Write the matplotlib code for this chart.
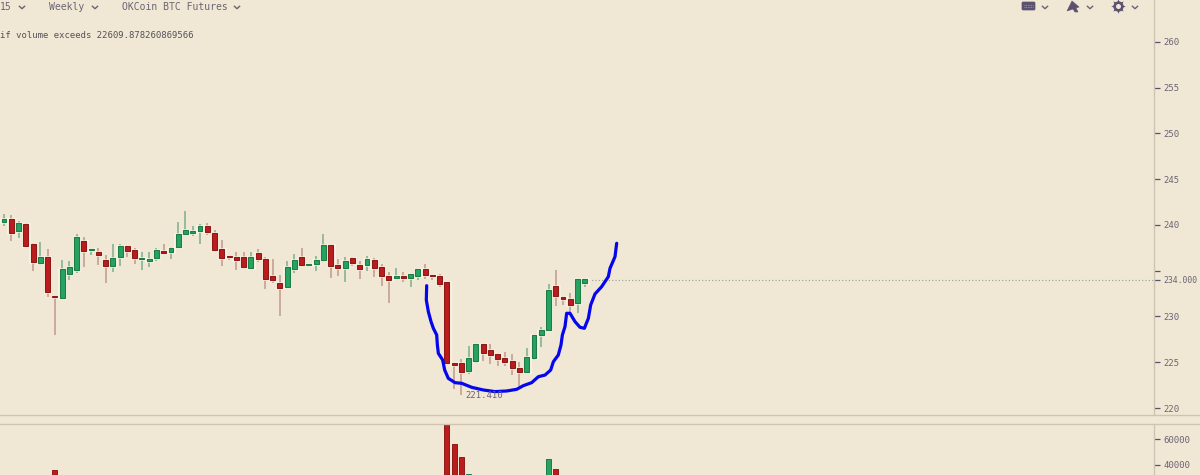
import matplotlib
matplotlib.use('Agg')
import matplotlib.pyplot as plt
from matplotlib.patches import FancyBboxPatch, Polygon
import numpy as np

opens = [240.29,240.62,239.34,240.14,237.88,235.88,236.54,232.2,232.02,234.68,
	235.12,238.21,237.23,237.05,236.17,235.55,236.5,237.67,237.23,236.25,
	236.06,236.43,237.16,237.05,237.56,238.98,239.16,239.34,239.85,239.09,
	237.34,236.65,236.47,236.47,235.26,236.98,236.25,234.43,233.62,233.26,
	235.19,236.54,235.67,235.74,236.14,237.78,235.67,235.26,236.36,235.67,
	235.63,236.17,235.37,234.43,234.21,234.43,234.21,234.39,235.23,234.5,
	234.43,233.73,224.92,224.88,224.08,225.17,226.96,226.3,225.87,225.46,
	225.1,224.37,223.97,225.5,227.94,228.49,233.3,232.13,231.95,231.51,233.7]
closes = [240.69,239.09,240.18,237.74,235.99,236.54,232.64,232.09,235.15,235.37,
	238.65,237.19,237.34,236.68,235.55,236.35,237.67,237.19,236.43,236.35,
	236.25,237.23,236.94,237.48,238.98,239.41,239.34,239.85,239.27,237.3,
	236.43,236.54,236.17,235.45,236.47,236.32,234.06,233.95,233.15,235.37,
	236.17,235.63,235.74,236.17,237.78,235.56,235.34,236.1,235.81,235.19,
	236.25,235.34,234.39,234.03,234.43,234.21,234.61,235.23,234.57,234.39,
	233.52,224.88,224.7,223.9,225.43,226.96,226.05,225.83,225.39,225.03,
	224.34,223.97,225.54,227.98,228.53,232.93,232.2,231.95,231.22,234.06,234.06]
highs = [241.2,241.05,240.43,240.18,237.99,238.14,237.34,232.2,236.17,236.03,
	239.01,238.65,237.34,237.52,236.72,237.88,237.88,237.67,237.52,237.01,
	237.01,237.52,237.88,237.63,240.33,241.49,239.89,240.07,240.25,239.45,
	238.36,236.65,237.01,237.08,237.08,237.34,236.47,236.28,234.54,236.1,
	236.83,237.52,235.74,236.65,239.02,237.78,236.28,236.47,236.47,236.03,
	236.65,236.36,235.7,234.83,235.34,234.83,234.61,235.23,235.7,234.5,
	234.61,233.73,224.92,225.32,226.78,226.96,226.96,226.96,225.87,226.16,
	225.87,224.99,226.52,227.98,228.82,233.52,235.08,232.13,232.6,234.06,234.06]
lows = [239.92,238.29,238.61,237.74,235.01,235.63,232.09,227.94,232.02,234.02,
	234.75,235.44,236.72,235.63,233.7,234.9,235.52,236.46,235.7,235.08,
	235.44,236.06,236.83,236.28,237.56,238.91,238.8,237.88,238.87,237.08,
	235.52,236.17,235.08,235.37,235.26,235.99,233.04,233.7,230.05,233.19,
	234.72,235.56,235.67,234.97,235.99,234.24,234.43,233.77,235.52,234.1,
	234.97,234.35,233.33,231.51,234.06,233.73,233.26,234.03,234.06,233.99,
	233.26,224.88,222.04,221.41,223.72,224.88,225.14,224.77,224.59,224.59,
	223.64,222.41,223.9,225.25,226.7,228.49,231.15,231.26,230.53,230.42,233.26]

vol_bars = [7, 61, 62, 63, 64, 75, 76]
vol_values = [35900, 75000, 56600, 46200, 32800, 44200, 36650]

drawn_x = [58.22,58.17,58.45,58.82,59.14,59.6,59.69,59.83,60.42,60.7,61.2,62.12,63.04,64.42,
	66.02,67.63,69.24,70.61,71.53,72.68,73.6,74.52,75.3,75.67,76.35,76.72,76.91,77.27,77.5,
	77.96,78.65,79.34,79.94,80.49,80.81,81.4,82.32,83.24,83.47,84.16,84.39]
drawn_y = [233.37,231.8,230.53,229.44,228.71,227.98,226.89,225.97,225.25,224.15,223.24,222.77,222.7,222.26,
	221.97,221.79,221.86,222.04,222.44,222.77,223.42,223.6,224.15,225.06,225.79,226.89,227.98,228.89,230.35,
	230.35,229.44,228.82,228.71,229.8,231.26,232.46,233.26,234.35,235.26,236.54,238.0]

price_ticks = [220, 225, 230, 235, 240, 245, 250, 255, 260]
price_labels = ['220', '225', '230', '', '240', '245', '250', '255', '260']
vol_ticks = [40000, 60000]
last_price = 234.0
low_label = '221.410'
note = 'if volume exceeds 22609.878260869566'
menu_items = ['15', 'Weekly', 'OKCoin BTC Futures']

BG = '#f0e7d4'
UP = '#27a35f'
UP_EDGE = '#1c7d47'
DOWN = '#bb1c1c'
DOWN_EDGE = '#8e1a18'
UP_WICK = '#7fae8c'
DOWN_WICK = '#c19a8a'
LINE = '#cdc4b2'
TEXT = '#6a6474'
ICON = '#5c5270'
W, H = 1200, 475
AXIS_X = 1154


def px_axes(fig, left, top, right, bottom):
	return fig.add_axes([left / W, 1 - bottom / H, (right - left) / W, (bottom - top) / H])


def style_axes(ax):
	ax.set_facecolor(BG)
	for side in ['top', 'left', 'bottom']:
		ax.spines[side].set_visible(False)
	ax.spines['right'].set_color(LINE)
	ax.spines['right'].set_linewidth(1)
	ax.set_xlim(-0.55, 158.4)
	ax.set_xticks([])
	ax.yaxis.tick_right()
	ax.tick_params(axis='y', length=4, width=0.9, color=ICON, labelcolor=TEXT, labelsize=6.4, pad=2.6)


def draw_candles(ax):
	x = np.arange(len(opens))
	o = np.array(opens)
	c = np.array(closes)
	up = c >= o
	wick_cols = [UP_WICK if u else DOWN_WICK for u in up]
	body_cols = [UP if u else DOWN for u in up]
	edge_cols = [UP_EDGE if u else DOWN_EDGE for u in up]
	bottom = np.minimum(o, c)
	height = np.abs(c - o)
	ax.vlines(x, lows, highs, colors=wick_cols, linewidth=1.1, zorder=2)
	ax.bar(x, height, width=0.78, bottom=bottom, color='none', edgecolor='#fbf6ea', linewidth=1.8, zorder=3)
	ax.bar(x, height, width=0.68, bottom=bottom, color=body_cols, edgecolor=edge_cols, linewidth=0.8, zorder=4)


def draw_chevron(ax, x, y):
	ax.plot([x - 2.6, x, x + 2.6], [y - 1.2, y + 1.2, y - 1.2], color=TEXT, linewidth=1, zorder=5)


def draw_toolbar(fig):
	ui = fig.add_axes([0, 0, 1, 1], facecolor='none')
	ui.set_xlim(0, W)
	ui.set_ylim(H, 0)
	ui.axis('off')
	for name, x in zip(menu_items, [0, 49, 122]):
		ui.text(x, 7, name, family='DejaVu Sans Mono', fontsize=7, color=TEXT, va='center', ha='left')
	ui.text(0, 35, note, family='DejaVu Sans Mono', fontsize=6.4, color='#55505a', va='center', ha='left')
	for x in [22, 95, 237, 1045, 1090, 1135]:
		draw_chevron(ui, x, 7.5)
	# keyboard with its rows of keys
	ui.add_patch(FancyBboxPatch((1023, 3), 11, 6, boxstyle='round,pad=1', facecolor=ICON, edgecolor=ICON, linewidth=0.5))
	ui.plot([1024, 1033], [4.6, 4.6], color='#a79fb0', linewidth=0.6, linestyle=(0, (1, 1)))
	ui.plot([1024, 1033], [7.4, 7.4], color='#a79fb0', linewidth=0.6, linestyle=(0, (1, 1)))
	ui.add_patch(Polygon([[1067, 11], [1072, 1], [1079, 7], [1076, 8], [1078, 12], [1075, 12], [1073, 9]], facecolor=ICON, edgecolor=ICON, linewidth=0.4))
	ui.scatter([1118], [6], s=110, marker=(8, 1, 0), color=ICON, linewidths=0)
	ui.scatter([1118], [6], s=55, color=ICON, linewidths=0)
	ui.scatter([1118], [6], s=13, color=BG, linewidths=0)
	# separators between price and volume panes
	ui.plot([0, W], [415, 415], color=LINE, linewidth=1)
	ui.plot([0, W], [423.5, 423.5], color=LINE, linewidth=1)


def main():
	fig = plt.figure(figsize=(W / 100, H / 100), dpi=100, facecolor=BG)

	ax = px_axes(fig, 0, 0, AXIS_X, 415)
	style_axes(ax)
	ax.set_ylim(219.235, 264.59)
	ticks = price_ticks + [last_price]
	labels = price_labels + ['234.000']
	ax.set_yticks(ticks)
	ax.set_yticklabels(labels, family='DejaVu Sans Mono')
	# last label has to stay inside the picture
	ax.get_yticklabels()[-1].set_fontsize(5.9)
	draw_candles(ax)
	ax.plot([len(opens) - 1, 158.4], [last_price, last_price], color='#8fa58c', linewidth=0.8, linestyle=(0, (1, 2)), zorder=1)
	ax.plot(drawn_x, drawn_y, color='#0505ee', linewidth=2.3, solid_joinstyle='round', solid_capstyle='round', zorder=6)
	ax.text(63.5, 221.4, low_label, family='DejaVu Sans Mono', fontsize=6.4, color=TEXT, va='center', ha='left', zorder=7)

	vax = px_axes(fig, 0, 424, AXIS_X, 475)
	style_axes(vax)
	vax.set_ylim(31990, 72000)
	vax.set_yticks(vol_ticks)
	vax.set_yticklabels([str(v) for v in vol_ticks], family='DejaVu Sans Mono')
	for i, v in zip(vol_bars, vol_values):
		up = closes[i] >= opens[i]
		vax.bar(i, v, width=0.72, color=UP if up else DOWN, edgecolor=UP_EDGE if up else DOWN_EDGE, linewidth=0.7, zorder=3)

	draw_toolbar(fig)
	fig.savefig('out.png', dpi=100, facecolor=BG)


if __name__ == '__main__':
	main()
